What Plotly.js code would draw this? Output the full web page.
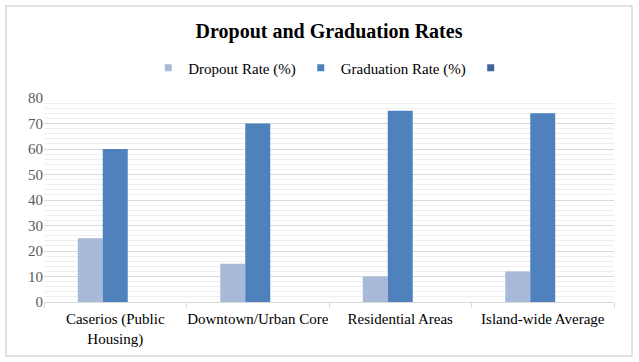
<!DOCTYPE html>
<html><head><meta charset="utf-8">
<script src="https://cdn.plot.ly/plotly-3.0.1.min.js"></script>
<style>html,body{margin:0;padding:0;background:#fff}#chart{width:639px;height:362px}</style>
</head><body><div id="chart"></div>
<script>
var categories = ['Caserios (Public<br>Housing)', 'Downtown/Urban Core', 'Residential Areas', 'Island-wide Average'];
var dropoutRate = [25, 15, 10, 12];
var graduationRate = [60, 70, 75, 74];
var thirdSeries = [null, null, null, null];
var seriesNames = ['Dropout Rate (%)', 'Graduation Rate (%)', ''];
var seriesColors = ['#A9B9D9', '#4F81BD', '#3F6698'];

var serif = '"Liberation Serif", "Times New Roman", serif';
var values = [dropoutRate, graduationRate, thirdSeries];
var traces = [];
values.forEach(function (v, i) {
  traces.push({type: 'bar', x: categories, y: v, name: seriesNames[i], showlegend: false,
    marker: {color: seriesColors[i], line: {width: 0}}, hoverinfo: 'skip'});
});
values.forEach(function (v, i) {
  traces.push({type: 'scatter', mode: 'markers', x: [null], y: [null], name: seriesNames[i], showlegend: true,
    marker: {symbol: 'square', size: 7, color: seriesColors[i]}});
});

var layout = {
  width: 639, height: 362,
  margin: {l: 44, r: 25, t: 98, b: 60},
  paper_bgcolor: '#fff', plot_bgcolor: '#fff',
  title: {text: '<b>Dropout and Graduation Rates</b>', font: {family: serif, size: 20, color: '#000'},
    x: 0.5, xref: 'paper', xanchor: 'center', y: 1 - 31 / 362, yanchor: 'middle'},
  barmode: 'group', bargap: 0.474, bargroupgap: 0,
  showlegend: true,
  legend: {orientation: 'h', x: 0.52, xanchor: 'center', xref: 'container', y: 1 - 68 / 362, yref: 'container', yanchor: 'middle',
    font: {family: serif, size: 15, color: '#000'}, itemwidth: 30, traceorder: 'normal'},
  xaxis: {type: 'category', showgrid: false, showline: true, linecolor: '#d9d9d9', linewidth: 1,
    ticks: 'outside', tickson: 'boundaries', ticklen: 5, tickcolor: '#d9d9d9', tickangle: 0,
    ticklabelstandoff: 3,
    tickfont: {family: serif, size: 15, color: '#000'}, fixedrange: true},
  yaxis: {range: [0, 80], dtick: 10, showgrid: true, gridcolor: '#d9d9d9', gridwidth: 1, zeroline: false,
    showline: false, ticks: '', tickfont: {family: serif, size: 15, color: '#595959'},
    minor: {dtick: 2, showgrid: true, gridcolor: '#efefef', gridwidth: 1}, fixedrange: true},
  shapes: [{type: 'rect', xref: 'paper', yref: 'paper', x0: (6 - 44) / 570, x1: (632 - 44) / 570,
    y0: (302 - 356) / 204, y1: (302 - 6) / 204, line: {color: '#d9d9d9', width: 1.5}, layer: 'below'}]
};
Plotly.newPlot('chart', traces, layout, {displayModeBar: false, staticPlot: true});
</script></body></html>
